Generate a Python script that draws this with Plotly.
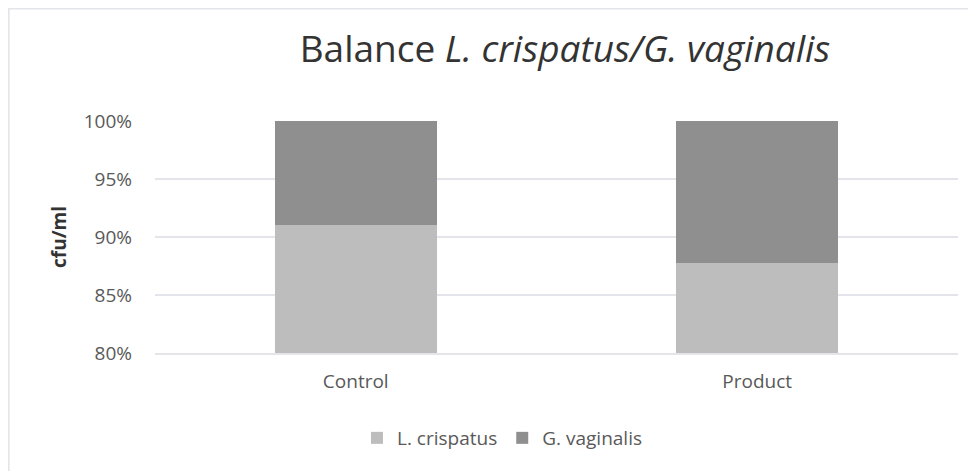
import plotly.graph_objects as go

categories = ["Control", "Product"]
l_crispatus = [91.0, 87.8]
g_vaginalis = [9.0, 12.2]
tick_vals = [80, 85, 90, 95, 100]
tick_text = ["80%", "85%", "90%", "95%", "100%"]

FONT = "Open Sans"
W, H = 976, 471
L, T, R, B = 147, 113, 26, 126
PW, PH = W - L - R, H - T - B

fig = go.Figure()
fig.add_trace(go.Bar(x=categories, y=l_crispatus, name="L. crispatus",
                     marker=dict(color="#bdbdbd", line=dict(width=0))))
fig.add_trace(go.Bar(x=categories, y=g_vaginalis, name="G. vaginalis",
                     marker=dict(color="#8f8f8f", line=dict(width=0))))

fig.update_layout(
    barmode="stack",
    bargap=0.597,
    width=W, height=H,
    margin=dict(l=L, r=R, t=T, b=B),
    paper_bgcolor="white", plot_bgcolor="white",
    font=dict(family=FONT, color="#595959", size=18),
    title=dict(text="Balance <i>L. crispatus/G. vaginalis</i>",
               font=dict(family=FONT, size=37, color="#333333"),
               x=557 / W, xanchor="center", y=1 - 41 / H, yanchor="middle"),
    legend=dict(orientation="h", x=(494 - L) / PW, xanchor="center",
                y=(H - B - 430) / PH, yanchor="middle",
                font=dict(size=19, color="#595959"), traceorder="normal",
                itemwidth=30),
    xaxis=dict(showgrid=False, showline=True, linecolor="#e3e5ea", linewidth=1.5,
               tickfont=dict(size=19, color="#595959"), ticks="",
               ticklabelstandoff=10),
    yaxis=dict(range=[80, 100], tickvals=tick_vals, ticktext=tick_text,
               showgrid=True, gridcolor="#e3e5ea", gridwidth=1.5,
               zeroline=False, ticks="", ticklabelstandoff=22,
               tickfont=dict(size=19, color="#595959"),
               title=dict(text="<b>cfu/ml</b>", font=dict(size=19, color="#333333"),
                          standoff=12)),
    shapes=[dict(type="rect", xref="paper", yref="paper",
                 x0=-L / PW + 0.0008, x1=(W - L) / PW + 0.01,
                 y0=-B / PH - 0.01, y1=1 + T / PH - 0.002,
                 line=dict(color="#e3e5ea", width=2), fillcolor="rgba(0,0,0,0)",
                 layer="below")],
)

fig.write_html("out.html")
